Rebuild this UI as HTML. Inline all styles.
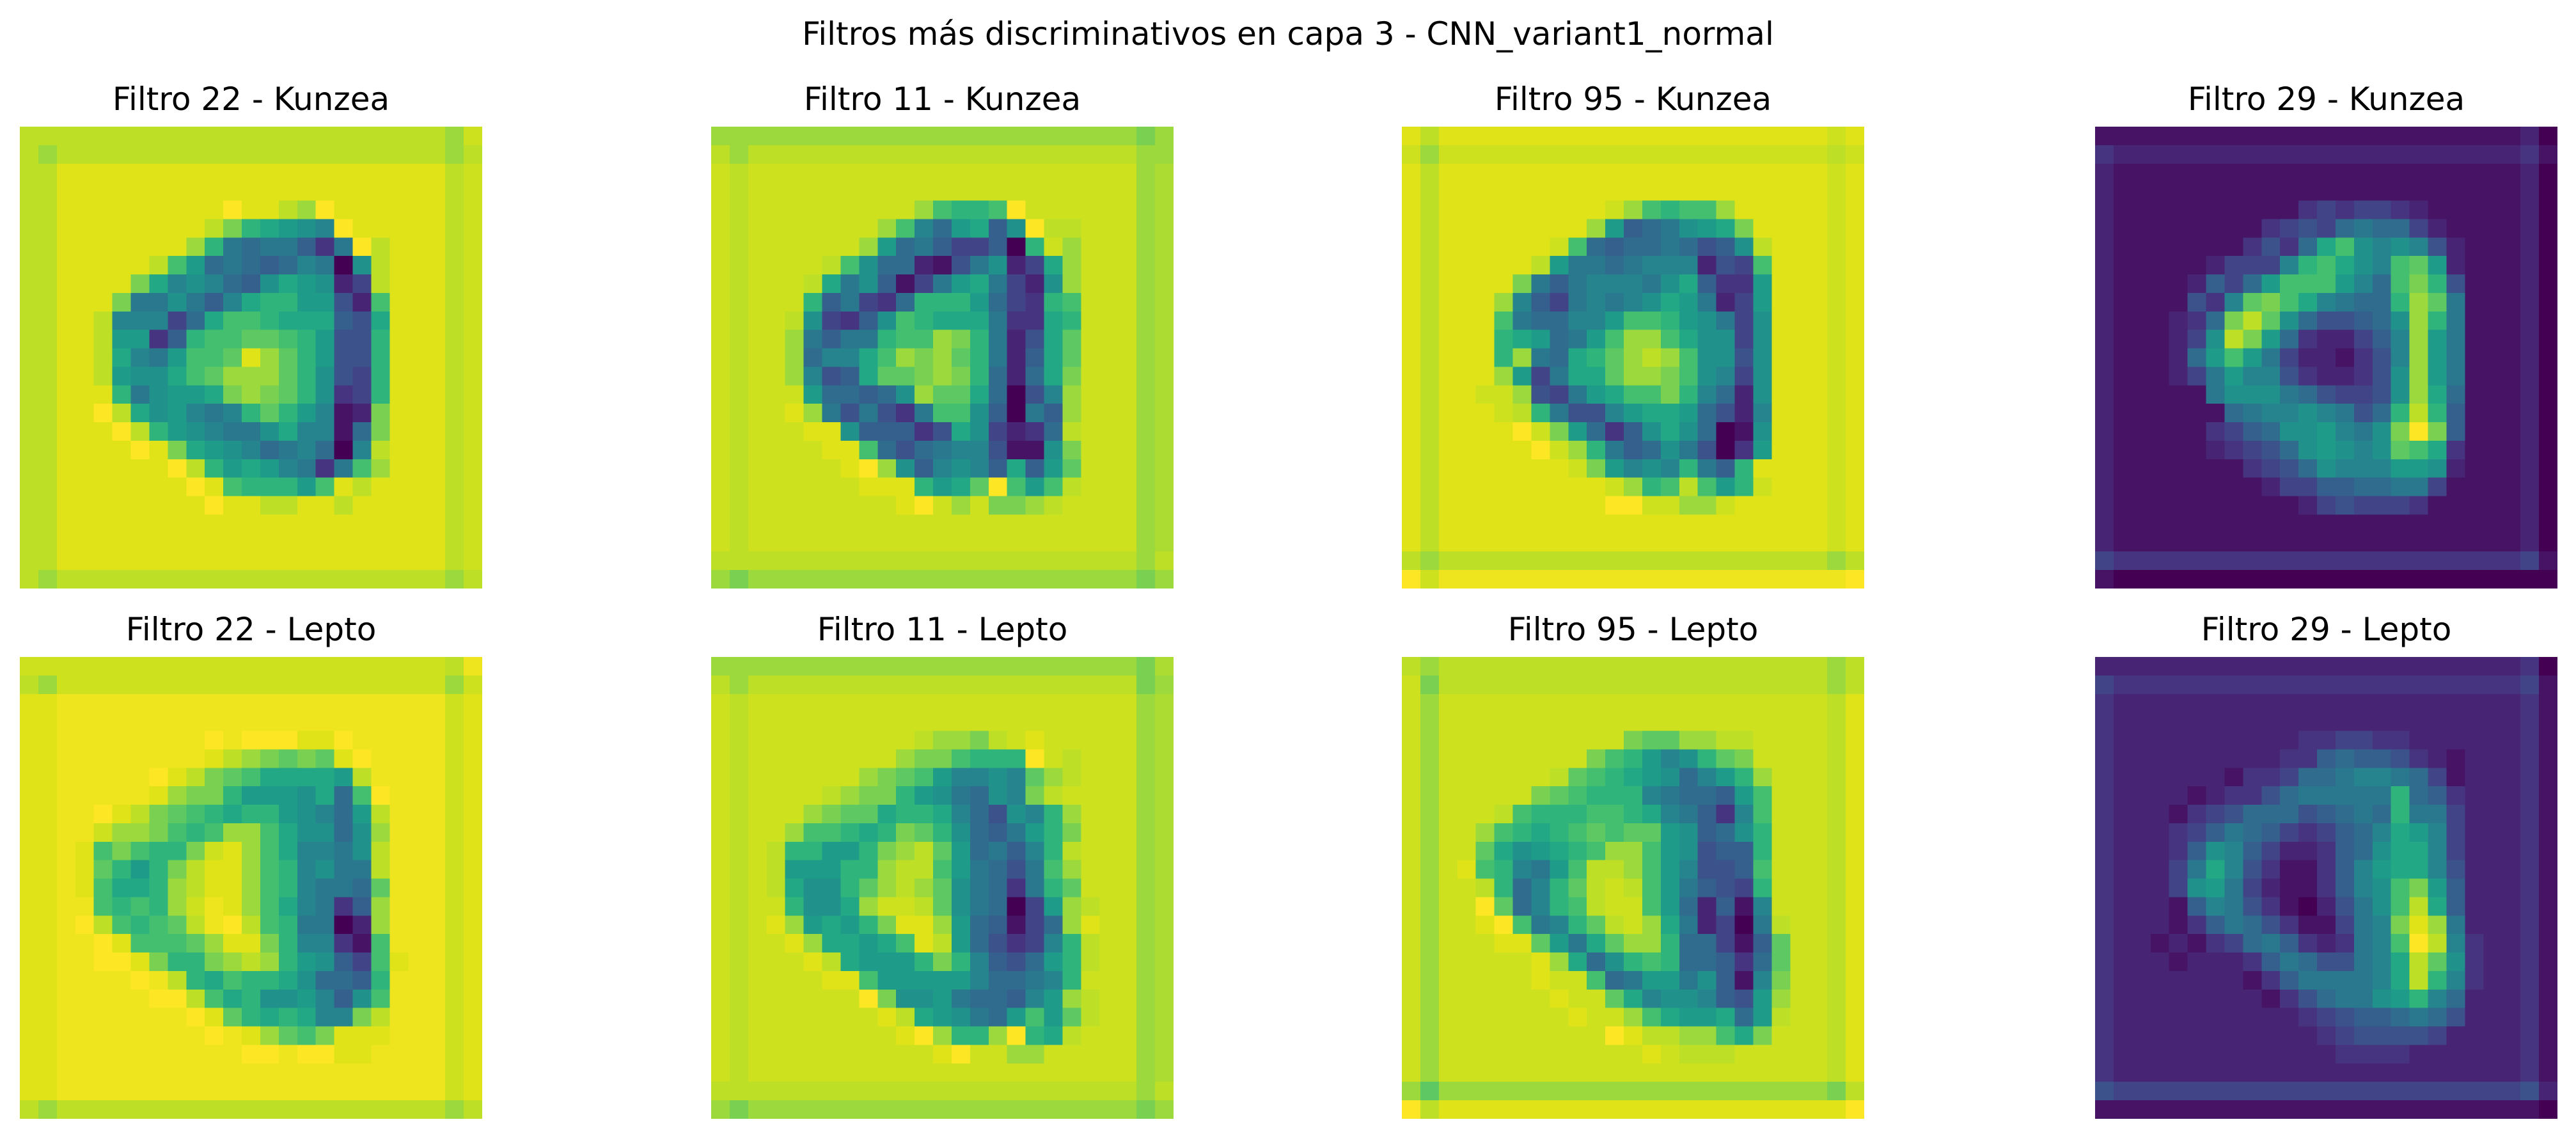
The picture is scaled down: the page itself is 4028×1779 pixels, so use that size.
<!DOCTYPE html>
<html><head><meta charset="utf-8"><title>Filtros más discriminativos</title>
<style>html,body{margin:0;padding:0;background:#fff}svg{display:block}text{font-family:"DejaVu Sans","Liberation Sans",sans-serif;fill:#000}</style>
</head><body>
<svg id="fig" width="4028" height="1779" viewBox="0 0 4028 1779" xmlns="http://www.w3.org/2000/svg">
<rect x="0" y="0" width="4028" height="1779" fill="#fff"/>
<text x="2014" y="70" font-size="50" text-anchor="middle">Filtros más discriminativos en capa 3 - CNN_variant1_normal</text>
<g id="panels"></g>
</svg>
<script>
const panelTitles=["Filtro 22 - Kunzea","Filtro 11 - Kunzea","Filtro 95 - Kunzea","Filtro 29 - Kunzea","Filtro 22 - Lepto","Filtro 11 - Lepto","Filtro 95 - Lepto","Filtro 29 - Lepto"];
const panelNames=["filtro22-kunzea","filtro11-kunzea","filtro95-kunzea","filtro29-kunzea","filtro22-lepto","filtro11-lepto","filtro95-lepto","filtro29-lepto"];
const levelChars="0123456789ABCDEFGHIJK";
const viridisStops=["#440154","#471365","#482475","#463480","#414487","#3b528b","#355f8d","#2f6c8e","#2a788e","#25848e","#21918c","#1e9c89","#22a884","#2fb47c","#44bf70","#5ec962","#7ad151","#9bd93c","#bddf26","#dfe318","#fde725"];
const k22=["IIIIIIIIIIIIIIIIIIIIIIIHi","IHIIIIIIIIIIIIIIIIIIIIIHI","IIJJJJJJJJJJJJJJJJJJJJJIi","IIJJJJJJJJJJJJJJJJJJJJJIi","IIJJJJJJJJJKJJIHKJJJJJJIi","IIJJJJJJJJIGDCBA9KJJJJJIi","IIJJJJJJJHD8788638KIJJJIi","IIJJJJJIEB78767980AIJJJIi","IIJJJJGC9A976ACBA24IJJJIi","IIJJJG88A869CDDBB52EJJJIi","IIJJI99947CEEDCCC65CJJJIi","IIJJIBB36DEEFFEDB55DJJJIi","IIJJIC98BEEFJHFDB55DJJJIi","IIJJIBAACEFHHHFDA54DJJJIi","IIJJJD8ABBCGHGFDA34DJJJIi","IIJJKICAB989DFDB912GJJJIi","IIJJJKIDBA988AC9917GJJJIi","IIJJJJKJGCBA9789709IJJJIi","IIJJJJJJKIDBCB9838EHJJJIi","IIJJJJJJJKJEDDDBEJIJJJJIi","IIJJJJJJJJKJJIIJJIJJJJJIi","IIJJJJJJJJJJJJJJJJJJJJJIi","IIJJJJJJJJJJJJJJJJJJJJJIi","IIJJJJJJJJJJJJJJJJJJJJJIi","IHIIIIIIIIIIIIIIIIIIIIIHI"];
const k11=["HHHHHHHHHHHHHHHHHHHHHHHGH","IHIIIIIIIIIIIIIIIIIIIIIHH","iIiiiiiiiiiiiiiiiiiiiiiHh","iIiiiiiiiiiiiiiiiiiiiiiHh","iIiiiiiiiiiHEDDEKiiiiiiHh","iIiiiiiiiHE97BC6AKIIiiiHh","iIiiiiiiHB7864460DiHiiiHh","iIiiiiIEA772158A24CHiiiHh","iIiiiIC8A6148BC842AHiiiHh","iIiiiD68437DDDB743DEiiiHh","iIiiIA436AEDCCC833CDiiiHh","iIiiH8688DEEHGD825CFiiiHh","iIiiH799CEHGHFD826CFiiiHh","iIiiH956CFFGHGD727CGiiiHh","iIiiiB7767AHFFC7059HiiiHh","iIiiJH858538EEA6086HiiiHh","iIiiiJJA66635CA4237IiiiHh","iIiiiiJJE757899511AGiiiHh","iIiiiiiJKHA69A96C6BFiiiHh","iIiiiiiiJJJDBCFKEBEIiiiHh","iIiiiiiiiiJKiHiGGHIiiiiHh","iIiiiiiiiiiiiiiiiiiiiiiHh","iIiiiiiiiiiiiiiiiiiiiiiHh","IIIIIIIIIIIIIIIIIIIIIIIHI","HGHHHHHHHHHHHHHHHHHHHHHGH"];
const k95=["JIJJJJJJJJJJJJJJJJJJJJJiJ","iHiiiiiiiiiiiiiiiiiiiiiIi","JIJJJJJJJJJJJJJJJJJJJJJiJ","JIJJJJJJJJJJJJJJJJJJJJJiJ","JIJJJJJJJJJiHEDEEHJJJJJiJ","JIJJJJJJJJHB678ABCGJJJJiJ","JIJJJJJJiE76778756AIJJJiJ","JIJJJJJIB8878999254EJJJiJ","JIJJJJG8689998AC633BJJJiJ","JIJJJH9648989ACB824BJJJiJ","JIJJJE87799BEEDBA84AJJJiJ","JIJJJDCB78BEHHECAA4AJJJiJ","JIJJJDH87CDFHIHEAA5AJJJiJ","JIJJJHB48CCFHHGEA94AJJJiJ","JIJJiiH548BCEEGD972AJJJiJ","JIJJJiID8559BCCB7529JJJiJ","JIJJJJKiGB736ACA701AJJJiJ","JIJJJJJKiHD867A8503BJJJiJ","JIJJJJJJJiGB9A9D86DJJJJiJ","JIJJJJJJJJJiHDEIEBDiJJJiJ","JIJJJJJJJJJKKiiHHiJJJJJiJ","JIJJJJJJJJJJJJJJJJJJJJJiJ","JIJJJJJJJJJJJJJJJJJJJJJiJ","IHIIIIIIIIIIIIIIIIIIIIIHI","KijjjjjjjjjjjjjjjjjjjjjjK"];
const k29=["1111111111111111111111120","3222222222222222222222231","2111111111111111111111120","2111111111111111111111120","2111111111134344321111120","2111111113454787742111120","211111113537CEA9A95211120","21111124449DECA9EFB211120","211112647BEEEB97EGD511120","21111539FGEC9877DHF811120","2111237GIFA75567AHD811120","211124AIGB7322469HB811120","211127BEB84221359HB811120","2111248B99532235AHB811120","2111118AAA875445AHC711120","21111117899A9857DID611120","2111113467AAB98AGKG611120","21111123457ABA9AFEC311120","211111113457A999BBA211120","2111111112446677884111120","2111111111124544431111120","2111111111111111111111120","2111111111111111111111120","4333333333333333333333341","1000000000000000000000000"];
const l22=["iiiiiiiiiiiiiiiiiiiiiiiIj","IHiiiiiiiiiiiiiiiiiiiiiHi","JJjjjjjjjjjjjjjjjjjjjjjiJ","JJjjjjjjjjjjjjjjjjjjjjjiJ","JJjjjjjjjjKjKKKJJKjjjjjiJ","JJjjjjjjjjJIHGFGFJKjjjjiJ","JJjjjjjKJIGFECCCCBIjjjjiJ","JJjjjjjJHGGDBBBAC7EKjjjiJ","JJjjKJIGFEDCDDBA97BIjjjiJ","JJjjiHHGEDEHHECAA7AHjjjiJ","JJjJEGEDDGiJHEC998AIjjjiJ","JJjJFDBDGIJJHED9A88IjjjiJ","JJjJECCDHIJJHED9887FjjjiJ","JJjjEDEDHijJHEC9836HjjjiJ","JJjKIEDEFIjKIED8802HjjjiJ","JJjjKJEEEFHJJGD9931EjjjiJ","JJjjKKJGDDGHIHDBA64EJjjiJ","JJjjjjKjIDCEDDCA776DjjjiJ","JJjjjjjKKIECDAAB96AEjjjiJ","JJjjjjjjjKJFDCDC99GIjjjiJ","JJjjjjjjjjKjJHFEGJJJjjjiJ","JJjjjjjjjjjjKKjKKJJjjjjiJ","JJjjjjjjjjjjjjjjjjjjjjjiJ","JJjjjjjjjjjjjjjjjjjjjjjiJ","IHIIIIIIIIIIIIIIIIIIIIIHI"];
const l11=["HHHHHHHHHHHHHHHHHHHHHHHGh","IHIIIIIIIIIIIIIIIIIIIIIGH","iIiiiiiiiiiiiiiiiiiiiiiHh","iIiiiiiiiiiiiiiiiiiiiiiHh","iIiiiiiiiiiIHHGIiJiiiiiHh","iIiiiiiiiiHGGEDDDKiIiiiHh","iIiiiiiiHGFEB99A9FHIiiiHh","iIiiiiIHGGDBA87A9GIiiiiHh","iIiiiHGFFCDDC975A9DHiiiHh","iIiiHEEDCDGFDA768BDGiiiHh","iIiIDDBBDGHIFB7869DIiiiHh","iIiIBBBDDHIIEB8758EHiiiHh","iIiICAADFHIHFA8738DFiiiHh","iIiiDAACHiiIFA8704BHIiiHh","iIiJHBCBDGJJHB76147HJiiHh","iIiiJHCCBCEJIB75349DIiiHh","iIiiiJICBBBDGD9657BDIiiHh","iIiiiiJJEBBBBB97789DiiiHh","iIiiiiiiKGAAB87769BHIiiHh","iIiiiiiiiJICBA87BEBFIiiHh","iIiiiiiiiiJKHDDHKDCIiiiHh","iIiiiiiiiiiiJKiiHHiiiiiHh","iIiiiiiiiiiiiiiiiiiiiiiHh","IIIIIIIIIIIIIIIIIIIIIIIHI","HGHHHHHHHHHHHHHHHHHHHHHGH"];
const l95=["IHIIIIIIIIIIIIIIIIIIIIIHI","iGIIIIIIIIIIIIIIIIIIIIIHI","iHiiiiiiiiiiiiiiiiiiiiiIJ","iHiiiiiiiiiiiiiiiiiiiiiIJ","iHiiiiiiiiiiGFFHHIIiiiiIJ","iHiiiiiiiiGEDB9ADFGiiiiIJ","iHiiiiiiIFEDCBA79BDHiiiIJ","iHiiiiiGFEDDD98776BEiiiIJ","iHiiiIEDDDEEDC98639EiiiIJ","iHiiHEDCDEFEFFBA67ADiiiIJ","iHiiFCABCDEHHEBA566DiiiIJ","iHiJED98BEIIHEB9556EiiiIJ","iHiiID79DFIiIEB8654DiiiIJ","iHiiKF79DEIiiEB72619iiiIJ","iHiiJKE89DFIiHC82408IiiIJ","iHiiiJJFB8CFHHD77416FiiIJ","iHiiiiiJHC7ADED77637FiiIJ","iHiiiiiJiiE78BB8A619GiiIJ","iHiiiiiiJiiFC9AA965BHiiIJ","iHiiiiiiiJiiHECBBC7BIiiIJ","iHiiiiiiiiiKJIIHHECGiiiIJ","iHiiiiiiiiiiiJiIIIiiiiiIJ","iHiiiiiiiiiiiiiiiiiiiiiIJ","HFHHHHHHHHHHHHHHHHHHHHHGI","KIJJJJJJJJJJJJJJJJJJJJJJK"];
const l29=["2222222222222222222222230","4333333333333333333333341","3222222222222222222222231","3222222222222222222222231","3222222222233443322222231","3222222222336766532122231","3222222133477899874122231","3222212335788888D76322231","3222134577756787D88422231","3222346876434679CB9422231","322236A96422367ACC9422231","322248C95311369BCC9522231","32224AB84211369AEGB622231","322216985310258AEIC622231","3222136875311489GJH822231","3221213478632389EKI932231","3222122236875589CIFA32231","3222222213688889CID932231","322222222135788ABD9722231","3222222222234566787522231","3222222222223455554222231","3222222222222333322222231","3222222222222222222222231","5444444444444444444444452","1111111111111111111111110"];
const panelData=[k22,k11,k95,k29,l22,l11,l95,l29];

const colX=[31,1112,2192,3276], rowY=[198,1027], PW=723, PH=722, N=25;
function charValue(c){let i=levelChars.indexOf(c);if(i>=0)return i/20;i=levelChars.indexOf(c.toUpperCase());return i>=0?Math.min(1,i/20+0.025):0.5;}
function hex2rgb(h){return [parseInt(h.substr(1,2),16),parseInt(h.substr(3,2),16),parseInt(h.substr(5,2),16)];}
function viridis(v){v=Math.max(0,Math.min(1,v));const p=v*20,i=Math.min(19,Math.floor(p)),t=p-i;const a=hex2rgb(viridisStops[i]),b=hex2rgb(viridisStops[i+1]);return "rgb("+a.map((x,k)=>Math.round(x+(b[k]-x)*t)).join(",")+")";}
function xScale(p,c){return colX[p%4]+c*PW/N;}
function yScale(p,r){return rowY[Math.floor(p/4)]+r*PH/N;}
const NS="http://www.w3.org/2000/svg";
const root=document.getElementById("panels");
panelData.forEach((rows,p)=>{
  const g=document.createElementNS(NS,"g");
  
  
  g.setAttribute("shape-rendering","crispEdges");
  for(let r=0;r<N;r++){
    const row=rows[r]||rows[rows.length-1];
    for(let c=0;c<N;c++){
      const ch=c<row.length?row[c]:row[row.length-1];
      const x0=xScale(p,c),x1=xScale(p,c+1),y0=yScale(p,r),y1=yScale(p,r+1);
      const rc=document.createElementNS(NS,"rect");
      rc.setAttribute("x",x0.toFixed(2));rc.setAttribute("y",y0.toFixed(2));
      rc.setAttribute("width",(x1-x0+(c<N-1?0.6:0)).toFixed(2));
      rc.setAttribute("height",(y1-y0+(r<N-1?0.6:0)).toFixed(2));
      rc.setAttribute("fill",viridis(charValue(ch)));
      
      
      g.appendChild(rc);
    }
  }
  root.appendChild(g);
  const t=document.createElementNS(NS,"text");
  t.setAttribute("x",colX[p%4]+PW/2);
  t.setAttribute("y",rowY[Math.floor(p/4)]-26);
  t.setAttribute("font-size","50");
  t.setAttribute("text-anchor","middle");
  
  
  t.textContent=panelTitles[p];
  root.appendChild(t);
});
</script>
</body></html>
